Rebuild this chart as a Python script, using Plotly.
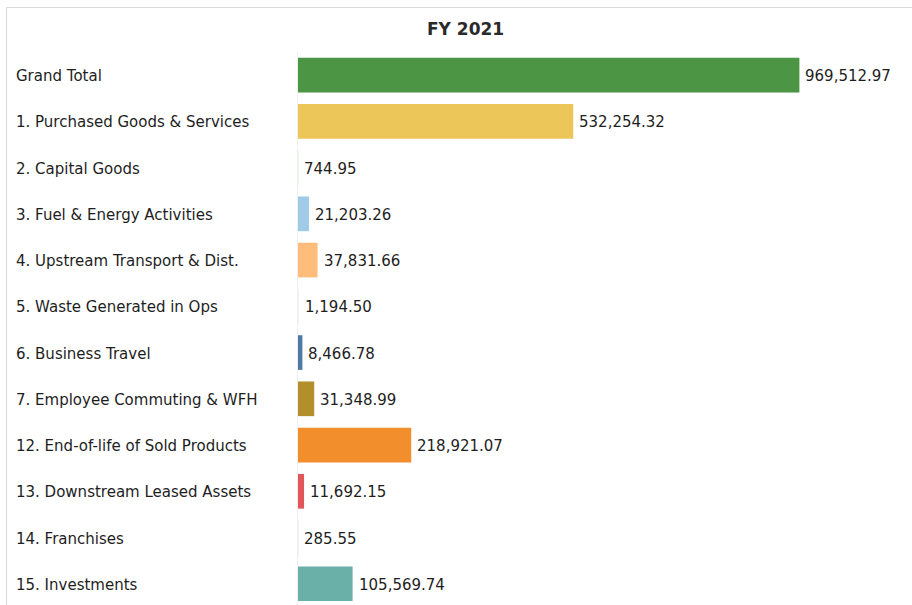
import plotly.graph_objects as go

# Scope 3 emissions by category, FY 2021
categories = [
    "Grand Total",
    "1. Purchased Goods & Services",
    "2. Capital Goods",
    "3. Fuel & Energy Activities",
    "4. Upstream Transport & Dist.",
    "5. Waste Generated in Ops",
    "6. Business Travel",
    "7. Employee Commuting & WFH",
    "12. End-of-life of Sold Products",
    "13. Downstream Leased Assets",
    "14. Franchises",
    "15. Investments",
]
values = [
    969512.97,
    532254.32,
    744.95,
    21203.26,
    37831.66,
    1194.50,
    8466.78,
    31348.99,
    218921.07,
    11692.15,
    285.55,
    105569.74,
]
colors = [
    "#4b9545",
    "#edc65a",
    "#eef6ec",
    "#a0cbe8",
    "#ffbc7a",
    "#f3f1f0",
    "#4e79a7",
    "#b38f2c",
    "#f28e2b",
    "#e15759",
    "#fbeef3",
    "#6aafa8",
]
title_text = "FY 2021"

W, H = 912, 605
ML, MR, MT, MB = 298, 12, 52, 0
plot_w = W - ML - MR
plot_h = H - MT - MB

FONT = "DejaVu Sans"
TXT = "#1e1e1e"


def px_x(px):
    return (px - ML) / plot_w


def px_y(py):
    return 1 + (MT - py) / plot_h


fig = go.Figure(
    go.Bar(
        x=values,
        y=categories,
        orientation="h",
        marker=dict(color=colors, line=dict(width=0)),
        width=0.75,
        hoverinfo="x+y",
    )
)

annotations = []
for cat, val in zip(categories, values):
    # category label, left aligned in the margin
    annotations.append(dict(
        x=px_x(14), xref="paper", y=cat, yref="y",
        text=cat, showarrow=False, xanchor="left", yanchor="middle",
        yshift=-1,
        font=dict(family=FONT, size=15, color=TXT),
    ))
    # value label just past the bar end
    annotations.append(dict(
        x=val, xref="x", y=cat, yref="y",
        text=f"{val:,.2f}", showarrow=False, xanchor="left", yanchor="middle",
        xshift=4, yshift=-1,
        font=dict(family=FONT, size=15, color=TXT),
    ))

annotations.append(dict(
    x=px_x(465), xref="paper", y=px_y(29), yref="paper",
    text=f"<b>{title_text}</b>", showarrow=False,
    xanchor="center", yanchor="middle",
    font=dict(family=FONT, size=17, color="#2a2a2a"),
))

row_px = 46.24
fig.update_layout(
    width=W, height=H,
    margin=dict(l=ML, r=MR, t=MT, b=MB, pad=0),
    paper_bgcolor="white", plot_bgcolor="white",
    showlegend=False,
    bargap=0.25,
    annotations=annotations,
    shapes=[dict(
        type="rect", xref="paper", yref="paper",
        x0=px_x(6.5), x1=px_x(W + 20), y0=px_y(H + 20), y1=px_y(7.5),
        line=dict(color="#d9d9d9", width=1), fillcolor="rgba(0,0,0,0)",
        layer="below",
    )],
    xaxis=dict(
        range=[0, 1164000], showgrid=False, zeroline=False,
        showticklabels=False, ticks="", fixedrange=True,
    ),
    yaxis=dict(
        categoryorder="array", categoryarray=categories,
        range=[-0.5 + plot_h / row_px, -0.5],
        showticklabels=False, ticks="", showgrid=False, zeroline=False,
        showline=True, linecolor="#efefef", linewidth=1,
        fixedrange=True,
    ),
)

fig.write_html("out.html")
